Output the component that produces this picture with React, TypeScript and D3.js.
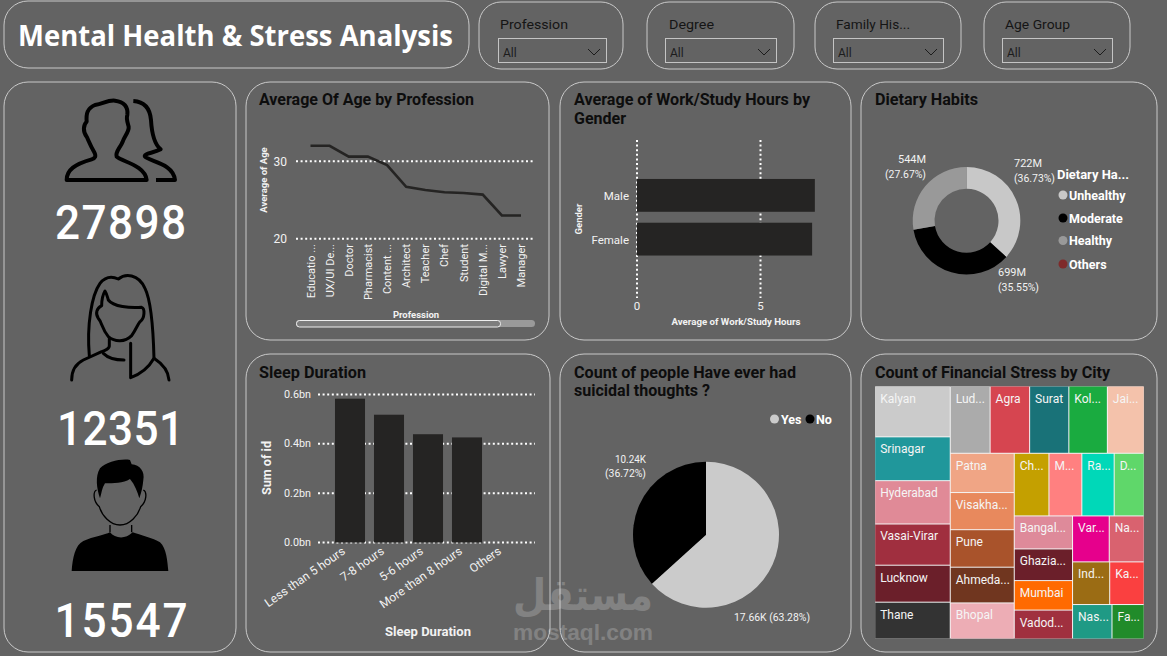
import React from "react";
import * as d3 from "d3";

// ---- data ----
const professions = ["Educatio ...", "UX/UI De...", "Doctor", "Pharmacist", "Content ...", "Architect", "Teacher", "Chef", "Student", "Digital M...", "Lawyer", "Manager"];
const ageByProfession = [32, 32, 30.6, 30.6, 29.5, 26.7, 26.3, 26, 25.9, 25.7, 23, 23];
const ageTicks = [20, 30];

const genders = ["Male", "Female"];
const hoursByGender = [7.2, 7.09];
const hourTicks = [0, 5];

const dietNames = ["Unhealthy", "Moderate", "Healthy", "Others"];
const dietValues = [722, 699, 544, 0];
const dietColors = ["#c8c8c8", "#000000", "#999999", "#7f2a2a"];
const dietLabels = [["722M", "(36.73%)"], ["699M", "(35.55%)"], ["544M", "(27.67%)"]];

const sleepNames = ["Less than 5 hours", "7-8 hours", "5-6 hours", "More than 8 hours", "Others"];
const sleepValues = [0.583, 0.518, 0.439, 0.426, 0];
const sleepTicks = [0, 0.2, 0.4, 0.6];

const suicidalNames = ["Yes", "No"];
const suicidalValues = [17.66, 10.24];
const suicidalColors = ["#cbcbcb", "#000000"];

const kpiValues = ["27898", "12351", "15547"];
const filterNames = ["Profession", "Degree", "Family His...", "Age Group"];

const cityCol1 = ["Kalyan", "Srinagar", "Hyderabad", "Vasai-Virar", "Lucknow", "Thane"];
const countCol1 = [1560, 1345, 1330, 1265, 1135, 1130];
const cityTop = ["Lud...", "Agra", "Surat", "Kol...", "Jai..."];
const countTop = [1090, 1080, 1072, 1053, 1007];
const cityCol2 = ["Patna", "Visakha...", "Pune", "Ahmeda...", "Bhopal"];
const countCol2 = [1021, 966, 975, 929, 938];
const cityRow = ["Ch...", "M...", "Ra...", "D..."];
const countRow = [883, 837, 823, 764];
const cityCol3 = ["Bangal...", "Ghazia...", "Mumbai", "Vadod..."];
const countCol3 = [782, 750, 699, 685];
const cityR1 = ["Var...", "Na..."];
const countR1 = [685, 653];
const cityR2 = ["Ind...", "Ka..."];
const countR2 = [644, 598];
const cityR3 = ["Nas...", "Fa..."];
const countR3 = [552, 451];
const cityColors: Record<string, string> = {
  "Kalyan": "#cbcbcb", "Srinagar": "#20979b", "Hyderabad": "#e08a97", "Vasai-Virar": "#a02f3f", "Lucknow": "#6b1f2a", "Thane": "#333333",
  "Lud...": "#ababab", "Agra": "#d64550", "Surat": "#197278", "Kol...": "#1aab40", "Jai...": "#f4c2ab",
  "Patna": "#f0a585", "Visakha...": "#e8895d", "Pune": "#a9532b", "Ahmeda...": "#70361f", "Bhopal": "#edadb5",
  "Ch...": "#c4a000", "M...": "#ff8080", "Ra...": "#00d8b8", "D...": "#5fd76a",
  "Bangal...": "#de8a9a", "Ghazia...": "#6b1f2a", "Mumbai": "#ff6a00", "Vadod...": "#a0303f",
  "Var...": "#e6008c", "Na...": "#d9626f", "Ind...": "#9b6c14", "Ka...": "#fa4040", "Nas...": "#1f9a85", "Fa...": "#218b2a",
};

// ---- helpers ----
const FONT = "'Roboto','Liberation Sans',sans-serif";
const BG = "#636363";
const EDGE = "#c9c9c9";
const BAR = "#252423";

type TP = { x: number; y: number; s: string; size?: number; w?: number; fill?: string; anchor?: string; len?: number; rotate?: number; font?: string; adjust?: string };
function T({ x, y, s, size = 12, w = 400, fill = "#f2f2f2", anchor = "start", len, rotate, font = FONT, adjust = "spacingAndGlyphs" }: TP) {
  return (
    <text x={x} y={y} fontSize={size} fontWeight={w} fill={fill} textAnchor={anchor} fontFamily={font}
      {...(len ? { textLength: len, lengthAdjust: adjust } : {})}
      transform={rotate !== undefined ? `rotate(${rotate} ${x} ${y})` : undefined}>{s}</text>
  );
}
function Kpi({ x, y, s, len }: { x: number; y: number; s: string; len: number }) {
  const squeeze = 0.92;
  return (
    <g transform={`translate(${x},${y}) scale(${squeeze},1)`}>
      <text x={0} y={0} fontSize={48} fontWeight={500} fill="#ffffff" textAnchor="middle" fontFamily={FONT} textLength={len / squeeze} lengthAdjust="spacing">{s}</text>
    </g>
  );
}
function Panel({ x0, y0, x1, y1, r = 24 }: { x0: number; y0: number; x1: number; y1: number; r?: number }) {
  return <rect x={x0} y={y0} width={x1 - x0} height={y1 - y0} rx={r} ry={r} fill="none" stroke={EDGE} strokeWidth={1} />;
}
const Title = ({ x, y, s, len }: { x: number; y: number; s: string; len: number }) => <T x={x} y={y} s={s} size={16} w={700} fill="#0d0d0d" len={len} />;
const Grid = (p: { x1: number; y1: number; x2: number; y2: number }) => <line {...p} stroke="#ffffff" strokeWidth={2} strokeDasharray="2 2.6" />;

function group(dir: string, names: string[], values: number[]) {
  return { dir, children: names.map((name, i) => ({ name, value: values[i] })) };
}
const cityTree = {
  dir: "h",
  children: [
    group("v", cityCol1, countCol1),
    {
      dir: "v",
      children: [
        group("h", cityTop, countTop),
        {
          dir: "h",
          children: [
            group("v", cityCol2, countCol2),
            {
              dir: "v",
              children: [
                group("h", cityRow, countRow),
                {
                  dir: "h",
                  children: [
                    group("v", cityCol3, countCol3),
                    { dir: "v", children: [group("h", cityR1, countR1), group("h", cityR2, countR2), group("h", cityR3, countR3)] },
                  ],
                },
              ],
            },
          ],
        },
      ],
    },
  ],
};

function LinePanel() {
  const x = d3.scalePoint<string>().domain(professions).range([310.5, 521]);
  const y = d3.scaleLinear().domain([20, 30]).range([238.7, 161.3]);
  const line = d3.line<number>().x((_, i) => x(professions[i])!).y((d) => y(d));
  return (
    <g>
      <Panel x0={246} y0={82} x1={549} y1={340} />
      <Title x={259} y={105} s="Average Of Age by Profession" len={215} />
      <T x={267} y={180} s="Average of Age" size={9.5} w={700} anchor="middle" rotate={-90} />
      {ageTicks.map((t) => (
        <g key={t}>
          <Grid x1={296} x2={535} y1={y(t)} y2={y(t)} />
          <T x={287} y={y(t) + 4.5} s={String(t)} size={12} anchor="end" />
        </g>
      ))}
      <path d={line(ageByProfession)!} fill="none" stroke={BAR} strokeWidth={2.6} />
      {professions.map((p) => (
        <T key={p} x={x(p)! + 4} y={244} s={p} size={11} anchor="end" rotate={-90} />
      ))}
      <T x={416} y={318} s="Profession" size={9.5} w={700} anchor="middle" />
      <rect x={296} y={320} width={239} height={7} rx={3.5} fill="#9a9a9a" />
      <rect x={296.5} y={320.5} width={204} height={6.5} rx={3} fill="#7d7d7d" stroke="#eeeeee" />
    </g>
  );
}

function BarPanel() {
  const x = d3.scaleLinear().domain([0, 5]).range([637, 760.5]);
  const y = d3.scaleBand().domain(genders).range([173.5, 261]).paddingInner(0.25).paddingOuter(0.125);
  return (
    <g>
      <Panel x0={560} y0={82} x1={851} y1={340} />
      <Title x={574} y={105} s="Average of Work/Study Hours by" len={236} />
      <Title x={574} y={124} s="Gender" len={52} />
      {hourTicks.map((t) => (
        <g key={t}>
          <Grid x1={x(t)} x2={x(t)} y1={140} y2={298} />
          <T x={x(t)} y={310} s={String(t)} size={11.5} anchor="middle" />
        </g>
      ))}
      {genders.map((g, i) => (
        <g key={g}>
          <rect x={x(0)} y={y(g)} width={x(hoursByGender[i]) - x(0)} height={y.bandwidth()} fill={BAR} />
          <T x={629} y={y(g)! + y.bandwidth() / 2 + 5} s={g} size={11.5} anchor="end" />
        </g>
      ))}
      <T x={582} y={219} s="Gender" size={9.5} w={700} anchor="middle" rotate={-90} />
      <T x={736} y={325} s="Average of Work/Study Hours" size={9.5} w={700} anchor="middle" len={129} />
    </g>
  );
}

function DonutPanel() {
  const cx = 966.5, cy = 220.7;
  const arcs = d3.pie<number>().sort(null)(dietValues.slice(0, 3));
  const arc = d3.arc<d3.PieArcDatum<number>>().innerRadius(32).outerRadius(53.8);
  const labelPos = [
    { x: 1014, y: 167, a: "start" },
    { x: 998, y: 276, a: "start" },
    { x: 926, y: 163, a: "end" },
  ];
  const legendY = [195, 218, 240.5, 264];
  return (
    <g>
      <Panel x0={861} y0={82} x1={1157} y1={340} />
      <Title x={875} y={105} s="Dietary Habits" len={103} />
      <g transform={`translate(${cx},${cy})`}>
        {arcs.map((a, i) => <path key={i} d={arc(a)!} fill={dietColors[i]} />)}
      </g>
      {dietLabels.map((l, i) => (
        <g key={i}>
          <T x={labelPos[i].x} y={labelPos[i].y} s={l[0]} size={11.5} anchor={labelPos[i].a} len={28} />
          <T x={labelPos[i].x} y={labelPos[i].y + 15} s={l[1]} size={11.5} anchor={labelPos[i].a} len={41} />
        </g>
      ))}
      <T x={1057} y={179} s="Dietary Ha..." size={12.5} w={700} fill="#ffffff" len={72} />
      {dietNames.map((n, i) => (
        <g key={n}>
          <circle cx={1063} cy={legendY[i]} r={4.5} fill={dietColors[i]} />
          <T x={1069} y={legendY[i] + 4.5} s={n} size={12.5} w={700} fill="#ffffff" />
        </g>
      ))}
    </g>
  );
}

function SleepPanel() {
  const x = d3.scaleBand().domain(sleepNames).range([330.5, 525.5]).paddingInner(0.23).paddingOuter(0.115);
  const y = d3.scaleLinear().domain([0, 0.6]).range([542.5, 394.5]);
  return (
    <g>
      <Panel x0={246} y0={354} x1={550} y1={652} />
      <Title x={259} y={378} s="Sleep Duration" len={107} />
      {sleepTicks.map((t) => (
        <g key={t}>
          <Grid x1={318} x2={535} y1={y(t)} y2={y(t)} />
          <T x={311} y={y(t) + 3.5} s={`${t.toFixed(1)}bn`} size={11} anchor="end" len={27} />
        </g>
      ))}
      {sleepNames.map((n, i) => (
        <g key={n}>
          <rect x={x(n)} y={y(sleepValues[i])} width={x.bandwidth()} height={y(0) - y(sleepValues[i])} fill={BAR} />
          <T x={x(n)! + x.bandwidth() / 2 - 4} y={553} s={n} size={12} anchor="end" rotate={-35} />
        </g>
      ))}
      <T x={271} y={495} s="Sum of id" size={13} w={700} rotate={-90} len={54} />
      <T x={428} y={636} s="Sleep Duration" size={13} w={700} anchor="middle" len={86} />
    </g>
  );
}

function PiePanel() {
  const arcs = d3.pie<number>().sort(null)(suicidalValues);
  const arc = d3.arc<d3.PieArcDatum<number>>().innerRadius(0).outerRadius(73);
  return (
    <g>
      <Panel x0={560} y0={354} x1={851} y1={652} />
      <Title x={574} y={378} s="Count of people Have ever had" len={222} />
      <Title x={574} y={396} s="suicidal thoughts ?" len={136} />
      <g transform="translate(706,534.7)">
        {arcs.map((a, i) => <path key={i} d={arc(a)!} fill={suicidalColors[i]} />)}
      </g>
      <circle cx={774.5} cy={419} r={4.5} fill={suicidalColors[0]} />
      <T x={781} y={423.5} s={suicidalNames[0]} size={12.5} w={700} fill="#fff" />
      <circle cx={810} cy={419} r={4.5} fill={suicidalColors[1]} />
      <T x={816} y={423.5} s={suicidalNames[1]} size={12.5} w={700} fill="#fff" />
      <T x={646} y={463} s="10.24K" size={11.5} anchor="end" len={31} />
      <T x={646} y={477} s="(36.72%)" size={11.5} anchor="end" len={41} />
      <T x={734} y={621} s="17.66K (63.28%)" size={11.5} len={76} />
    </g>
  );
}

function TreemapPanel() {
  const root = d3.hierarchy<any>(cityTree).sum((d) => d.value || 0);
  d3.treemap<any>()
    .size([268.5, 252])
    .paddingInner(1)
    .tile((node: any, x0, y0, x1, y1) =>
      (node.data.dir === "h" ? d3.treemapDice : d3.treemapSlice)(node, x0, y0, x1, y1))(root);
  return (
    <g>
      <Panel x0={861} y0={354} x1={1157} y1={652} />
      <Title x={875} y={378} s="Count of Financial Stress by City" len={235} />
      <g transform="translate(875.2,386.5)">
        <rect width={268.5} height={252} fill="#f4f4f4" />
        {root.leaves().map((l: any) => (
          <g key={l.data.name}>
            <rect x={l.x0} y={l.y0} width={l.x1 - l.x0} height={l.y1 - l.y0} fill={cityColors[l.data.name]} />
            <T x={l.x0 + 5} y={l.y0 + 16} s={l.data.name} size={12} fill="#f5f5f5" />
          </g>
        ))}
      </g>
    </g>
  );
}

function Filters() {
  const boxes = [
    { p0: 479, p1: 623, d0: 498, d1: 606, tx: 500, tl: 68 },
    { p0: 647, p1: 794, d0: 665, d1: 776, tx: 669, tl: 45 },
    { p0: 815, p1: 961, d0: 833, d1: 943, tx: 836, tl: 74 },
    { p0: 984, p1: 1130, d0: 1002, d1: 1112, tx: 1005, tl: 65 },
  ];
  return (
    <g>
      {filterNames.map((n, i) => {
        const b = boxes[i];
        return (
          <g key={n}>
            <Panel x0={b.p0} y0={2} x1={b.p1} y1={69} r={22} />
            <T x={b.tx} y={29} s={n} size={13.5} fill="#151515" len={b.tl} />
            <rect x={b.d0 + 0.5} y={38.5} width={b.d1 - b.d0} height={24} fill="none" stroke="#c4c4c4" />
            <T x={b.d0 + 5} y={57} s="All" size={12} fill="#1c1c1c" />
            <path d={`M${b.d1 - 18} 49 L${b.d1 - 12} 55 L${b.d1 - 6} 49`} fill="none" stroke="#1c1c1c" strokeWidth={1} />
          </g>
        );
      })}
    </g>
  );
}

function Icons() {
  return (
    <g>
      <g transform="translate(50,90) scale(0.3333)" fill="none" stroke="#000" strokeWidth={12} strokeLinejoin="round">
        <path d="M50 270 C50 240 75 222 125 208 C135 205 140 200 132 185 C120 165 115 150 110 140 C98 125 100 105 110 95 C108 70 112 55 135 45 C160 42 170 30 195 32 C222 35 235 50 232 75 C228 85 232 95 236 110 C238 125 222 140 218 155 C210 175 195 185 200 200 C215 215 285 225 290 270 Z" />
        <path d="M250 33 C285 35 300 55 303 90 C305 125 310 160 332 178 C310 190 280 190 285 200 C300 215 370 220 375 270 L318 270" />
      </g>
      <g transform="translate(50,265) scale(0.3333)" fill="none" stroke="#000" strokeWidth={9} strokeLinecap="round" strokeLinejoin="round">
        <path d="M118 272 C110 180 125 90 150 55 C170 30 190 35 205 42 C225 25 265 25 285 70 C305 110 310 200 312 280 C295 310 270 328 242 338 L242 235" />
        <path d="M165 78 C158 90 155 105 155 122 C140 130 135 145 145 160 C155 170 155 190 175 215 C195 232 225 232 245 212 C260 190 262 180 270 170 C285 160 285 130 275 127 C240 130 190 125 175 105 C172 95 170 85 165 78 Z" />
        <path d="M178 220 L178 240 C180 250 165 258 155 260 L100 285 C80 295 65 315 65 345" />
        <path d="M160 265 C175 280 195 285 222 285" />
        <path d="M312 280 C335 295 355 315 357 345" />
      </g>
      <g transform="translate(50,455) scale(0.3333)">
        <path d="M150 130 C140 100 135 65 150 40 C170 20 215 10 240 15 L245 28 C270 30 285 50 280 75 C278 95 275 110 268 130 C262 110 255 90 240 72 C220 85 190 85 165 85 C155 100 155 115 150 130 Z" fill="#000" />
        <path d="M140 105 C128 110 130 140 148 155 C155 180 180 210 210 210 C240 210 265 180 272 155 C290 140 292 110 280 105" fill="none" stroke="#000" strokeWidth={4} />
        <path d="M180 210 L180 232 M245 210 L245 232" fill="none" stroke="#000" strokeWidth={4} />
        <path d="M65 348 C68 310 75 270 100 258 C130 245 165 240 180 232 C195 250 225 255 248 232 C270 240 310 250 330 262 C350 280 352 320 355 348 Z" fill="#000" />
      </g>
    </g>
  );
}

export default function App() {
  return (
    <svg width={1167} height={656} viewBox="0 0 1167 656" style={{ position: "fixed", left: 0, top: 0, display: "block" }}>
      <rect width={1167} height={656} fill={BG} />
      <Panel x0={4} y0={1} x1={469} y1={68} r={24} />
      <T x={18} y={46} s="Mental Health & Stress Analysis" size={29} w={700} fill="#ffffff" len={435} font="'Open Sans',sans-serif" />
      <Filters />
      <Panel x0={4} y0={82} x1={236} y1={652} />
      <Icons />
      <Kpi x={120.5} y={239} s={kpiValues[0]} len={131} />
      <Kpi x={120.5} y={445} s={kpiValues[1]} len={127} />
      <Kpi x={121} y={637} s={kpiValues[2]} len={133} />
      <LinePanel />
      <BarPanel />
      <DonutPanel />
      <SleepPanel />
      <PiePanel />
      <TreemapPanel />
      <g opacity={0.2} fill="#ffffff">
        <text x={583} y={610} fontSize={44} fontWeight={700} fontFamily="'DejaVu Sans',sans-serif" textAnchor="middle" direction="rtl" textLength={140} lengthAdjust="spacingAndGlyphs">مستقل</text>
        <text x={583} y={640} fontSize={22} fontWeight={700} fontFamily="'Liberation Sans',sans-serif" textAnchor="middle" textLength={140} lengthAdjust="spacingAndGlyphs">mostaql.com</text>
      </g>
    </svg>
  );
}
